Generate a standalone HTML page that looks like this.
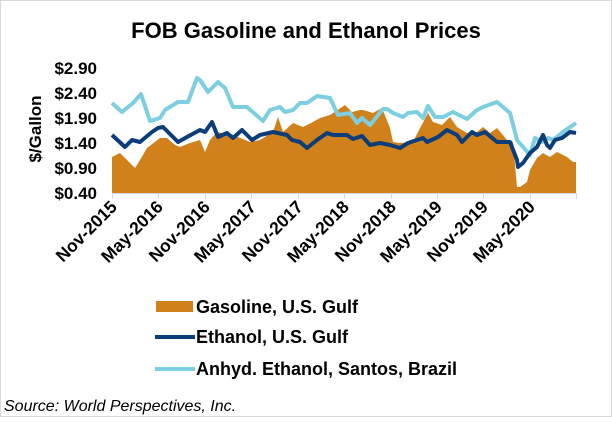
<!DOCTYPE html>
<html><head><style>
html,body{margin:0;padding:0;background:#fff;}
svg text{font-family:"Liberation Sans",Arial,sans-serif;}
</style></head><body>
<svg width="612" height="417" viewBox="0 0 612 417" xmlns="http://www.w3.org/2000/svg">
<rect x="0.5" y="0.5" width="611" height="416" fill="#fff" stroke="#d9d9d9"/>
<text x="306" y="38" text-anchor="middle" font-size="22" font-weight="bold">FOB Gasoline and Ethanol Prices</text>
<g font-size="17" font-weight="bold" text-anchor="end">
<text x="97" y="74">$2.90</text>
<text x="97" y="99">$2.40</text>
<text x="97" y="124">$1.90</text>
<text x="97" y="149">$1.40</text>
<text x="97" y="174">$0.90</text>
<text x="97" y="199">$0.40</text>
</g>
<text transform="translate(41,129) rotate(-90)" text-anchor="middle" font-size="17" font-weight="bold">$/Gallon</text>
<path fill="#d0811a" d="M112,193 L112,157 120,153 127,160 135,168 140,160 147,148 160,138 167,138 175,145 180,147 190,143 200,140 205,152 210,140 217,132 233,135 250,142 260,140 273,132 278,117 283,132 293,123 303,127 313,122 320,118 330,115 345,105 352,112 360,110 363,110 373,113 382,108 390,128 393,142 400,143 413,142 418,132 428,113 433,122 442,125 450,117 457,127 467,133 477,132 483,127 490,133 497,128 507,140 513,142 517,187 520,187 527,182 530,170 537,158 543,153 550,157 557,152 567,157 573,162 576,162 L576,193 Z"/>
<polyline fill="none" stroke="#7ccfe0" stroke-width="4" stroke-linejoin="round" points="112,103 122,112 133,103 141,94 150,121 160,118 165,110 178,102 188,102 197,78 200,80 208,92 218,82 225,88 233,107 247,107 263,121 270,110 280,107 285,112 293,110 300,103 307,103 317,96 330,98 338,115 350,113 357,123 362,118 370,125 383,109 387,109 393,113 403,117 408,113 417,112 423,118 428,106 435,117 443,117 453,112 467,119 477,110 483,107 497,102 510,113 517,140 530,155 535,138 542,142 548,138 553,140 563,132 576,123"/>
<polyline fill="none" stroke="#0b3d7a" stroke-width="4" stroke-linejoin="round" points="112,135 125,147 132,140 140,142 152,132 158,128 163,127 168,132 178,142 187,137 200,130 205,132 212,122 218,137 227,133 233,138 242,130 252,140 260,135 273,132 287,135 292,140 300,142 307,148 317,140 327,133 333,135 347,135 353,139 362,136 370,145 380,143 390,145 400,148 408,143 423,138 427,142 438,137 447,130 457,135 462,142 472,132 477,135 485,132 497,142 510,142 517,160 518,167 523,163 530,153 537,147 543,135 547,145 550,148 555,140 562,138 570,132 576,133"/>
<line x1="112" y1="193.5" x2="576" y2="193.5" stroke="#d9d9d9" stroke-width="1"/>
<g stroke="#d9d9d9">
<line x1="112.5" y1="193" x2="112.5" y2="199"/><line x1="158.5" y1="193" x2="158.5" y2="199"/><line x1="205.5" y1="193" x2="205.5" y2="199"/><line x1="251.5" y1="193" x2="251.5" y2="199"/><line x1="298.5" y1="193" x2="298.5" y2="199"/><line x1="344.5" y1="193" x2="344.5" y2="199"/><line x1="391.5" y1="193" x2="391.5" y2="199"/><line x1="437.5" y1="193" x2="437.5" y2="199"/><line x1="483.5" y1="193" x2="483.5" y2="199"/><line x1="530.5" y1="193" x2="530.5" y2="199"/><line x1="576.5" y1="193" x2="576.5" y2="199"/>
</g>
<g font-size="17.5" font-weight="bold" text-anchor="end">
<text transform="translate(118,208) rotate(-45)">Nov-2015</text>
<text transform="translate(164,208) rotate(-45)">May-2016</text>
<text transform="translate(211,208) rotate(-45)">Nov-2016</text>
<text transform="translate(257,208) rotate(-45)">May-2017</text>
<text transform="translate(304,208) rotate(-45)">Nov-2017</text>
<text transform="translate(350,208) rotate(-45)">May-2018</text>
<text transform="translate(397,208) rotate(-45)">Nov-2018</text>
<text transform="translate(443,208) rotate(-45)">May-2019</text>
<text transform="translate(489,208) rotate(-45)">Nov-2019</text>
<text transform="translate(536,208) rotate(-45)">May-2020</text>
</g>
<rect x="156" y="301" width="37" height="11" fill="#d0811a"/>
<line x1="155" y1="337" x2="195" y2="337" stroke="#0b3d7a" stroke-width="4"/>
<line x1="155" y1="369" x2="195" y2="369" stroke="#7ccfe0" stroke-width="4"/>
<g font-size="18" font-weight="bold">
<text x="196" y="313">Gasoline, U.S. Gulf</text>
<text x="196" y="343">Ethanol, U.S. Gulf</text>
<text x="196" y="375">Anhyd. Ethanol, Santos, Brazil</text>
</g>
<text x="4" y="411" font-size="16" font-style="italic">Source: World Perspectives, Inc.</text>
</svg>
</body></html>
